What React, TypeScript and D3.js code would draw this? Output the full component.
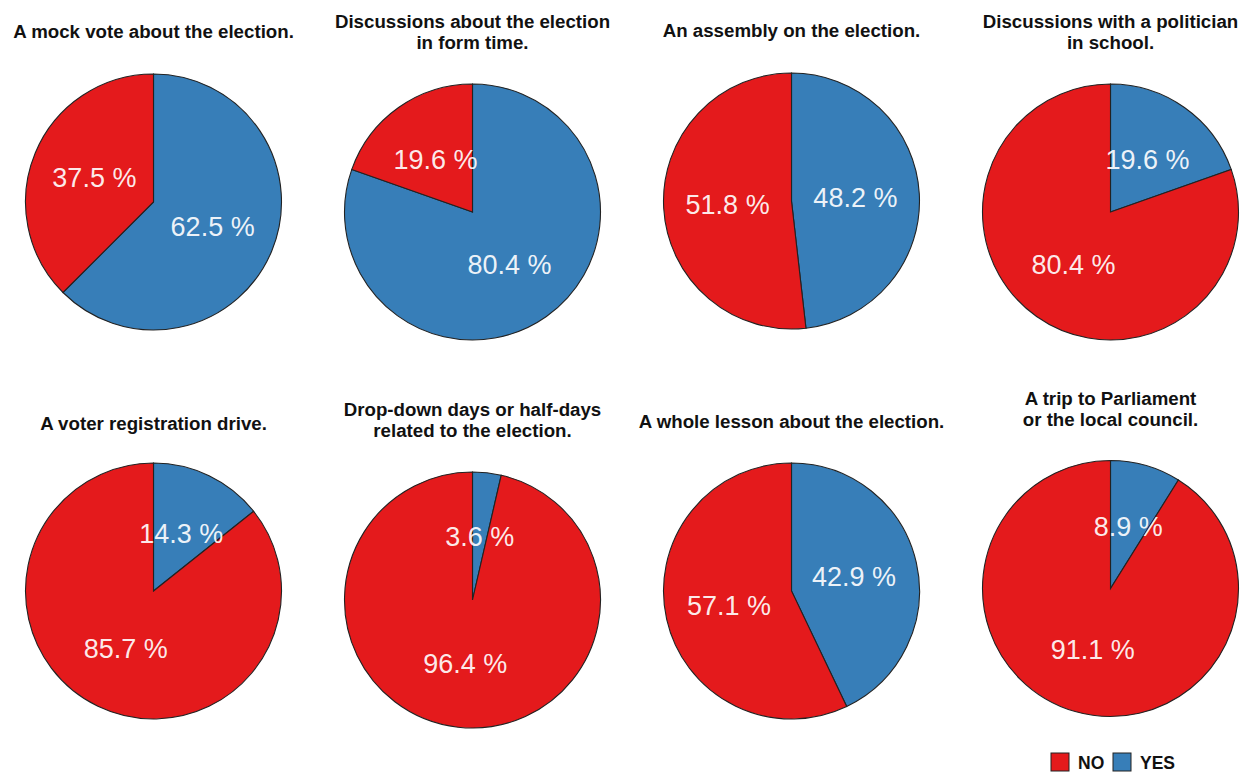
import React from "react";
import * as d3 from "d3";

// Survey items, one pie each
const titles: string[][] = [
  ["A mock vote about the election."],
  ["Discussions about the election", "in form time."],
  ["An assembly on the election."],
  ["Discussions with a politician", "in school."],
  ["A voter registration drive."],
  ["Drop-down days or half-days", "related to the election."],
  ["A whole lesson about the election."],
  ["A trip to Parliament", "or the local council."],
];

const answers = ["YES", "NO"];
const yesPct = [62.5, 80.4, 48.2, 19.6, 14.3, 3.6, 42.9, 8.9];
const noPct = [37.5, 19.6, 51.8, 80.4, 85.7, 96.4, 57.1, 91.1];
const legendOrder = ["NO", "YES"];

// Layout of the 4 x 2 panel grid
const W = 1243;
const H = 773;
const R = 128;
const colX = [153.5, 472.5, 791.5, 1110.5];
const pieCy = [202, 212, 201, 212, 591, 600, 591, 588.5];
const titleY = [38, 28, 37, 28, 430, 416, 428, 405];
const titleLineGap = 20.5;

const color = d3
  .scaleOrdinal<string, string>()
  .domain(["NO", "YES"])
  .range(["#E41A1C", "#377EB8"]);

const FONT = "'Liberation Sans', Arial, Helvetica, sans-serif";

const pie = d3
  .pie<{ key: string; value: number }>()
  .sort(null)
  .value((d) => d.value)
  .startAngle(0)
  .endAngle(2 * Math.PI);

const arc = d3
  .arc<d3.PieArcDatum<{ key: string; value: number }>>()
  .innerRadius(0)
  .outerRadius(R);

const fmt = d3.format(".1f");

export default function App() {
  return (
    <svg
      width={W}
      height={H}
      style={{ position: "absolute", left: 0, top: 0, background: "#fff" }}
    >
      {titles.map((lines, i) => {
        const cx = colX[i % 4];
        const cy = pieCy[i];
        const slices = pie([
          { key: answers[0], value: yesPct[i] },
          { key: answers[1], value: noPct[i] },
        ]);
        return (
          <g key={i}>
            <text
              textAnchor="middle"
              fontFamily={FONT}
              fontWeight="bold"
              fontSize={18.7}
              fill="#111"
            >
              {lines.map((l, j) => (
                <tspan key={j} x={cx} y={titleY[i] + j * titleLineGap}>
                  {l}
                </tspan>
              ))}
            </text>
            <g transform={`translate(${cx},${cy})`}>
              {slices.map((s) => (
                <path
                  key={s.data.key}
                  d={arc(s) || ""}
                  fill={color(s.data.key)}
                  stroke="#222"
                  strokeWidth={1.1}
                />
              ))}
              {slices.map((s) => {
                const [lx, ly] = arc.centroid(s);
                return (
                  <text
                    key={"l" + s.data.key}
                    x={lx}
                    y={ly}
                    dy="0.35em"
                    textAnchor="middle"
                    fontFamily={FONT}
                    fontSize={27}
                    fill="#fff"
                    fillOpacity={0.92}
                  >
                    {`${fmt(s.data.value)} %`}
                  </text>
                );
              })}
            </g>
          </g>
        );
      })}
      {/* legend */}
      <g fontFamily={FONT} fontWeight="bold" fontSize={17.5} fill="#111">
        {legendOrder.map((k, i) => {
          const x0 = [1051, 1113][i];
          return (
            <g key={k}>
              <rect
                x={x0}
                y={753}
                width={18}
                height={18}
                fill={color(k)}
                stroke="#222"
                strokeWidth={1}
              />
              <text x={x0 + 27} y={769}>
                {k}
              </text>
            </g>
          );
        })}
      </g>
    </svg>
  );
}
